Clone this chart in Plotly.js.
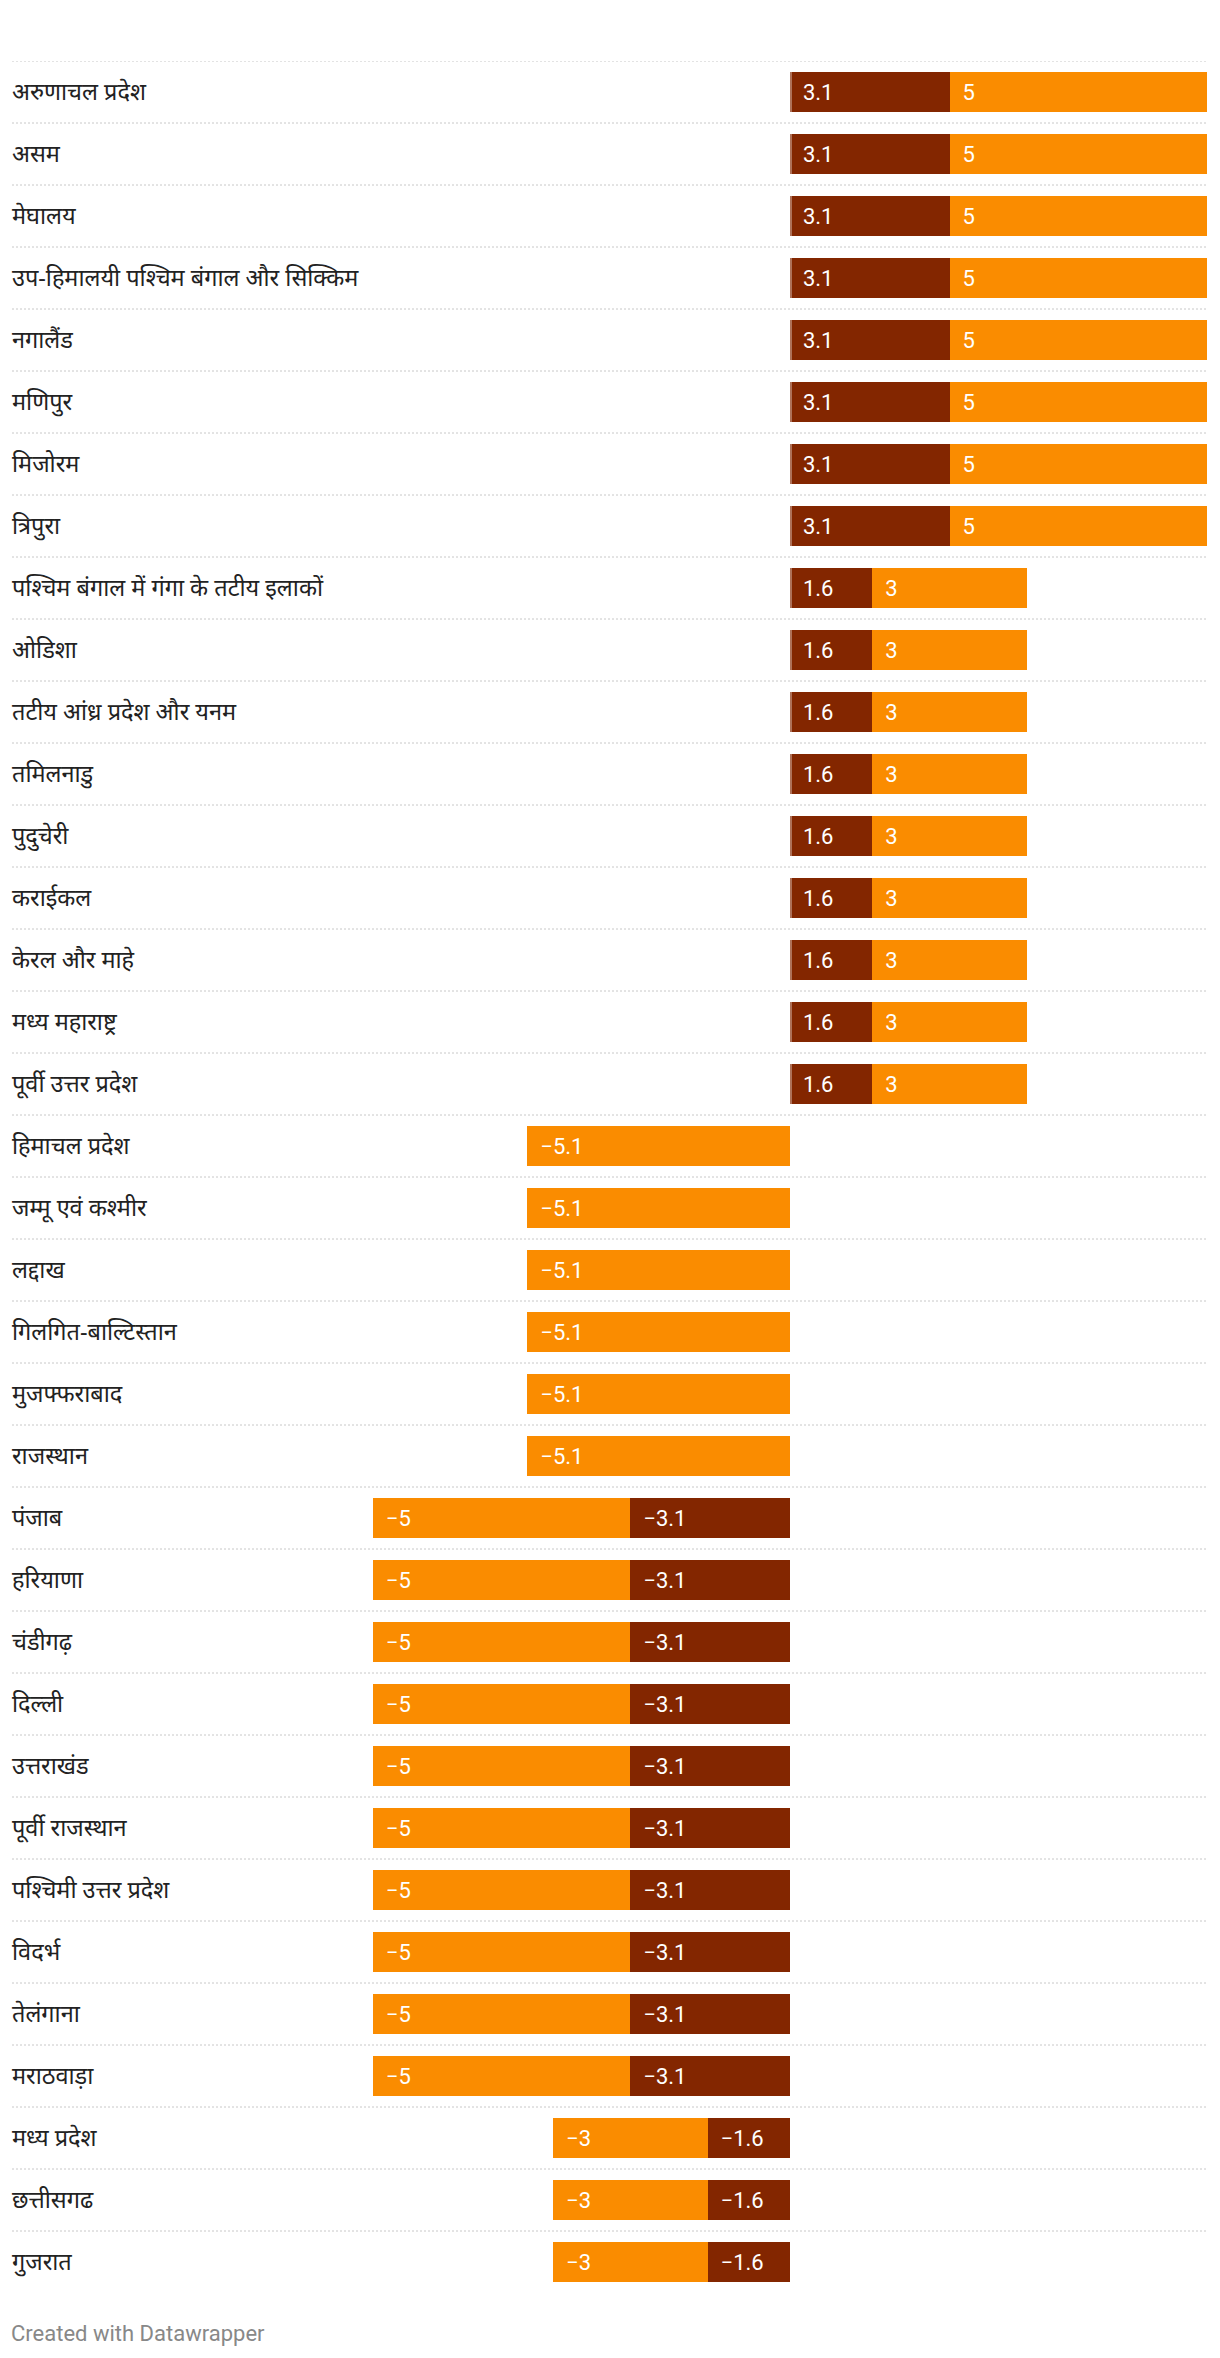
<!DOCTYPE html>
<html>
<head>
<meta charset="utf-8">
<script src="https://cdn.plot.ly/plotly-3.0.1.min.js"></script>
<style>
  html, body { margin: 0; padding: 0; background: #fff; }
  #chart { width: 1220px; height: 2358px; }
</style>
</head>
<body>
<div id="chart"></div>
<script>
const categories = [
  "अरुणाचल प्रदेश", "असम", "मेघालय", "उप-हिमालयी पश्चिम बंगाल और सिक्किम",
  "नगालैंड", "मणिपुर", "मिजोरम", "त्रिपुरा",
  "पश्चिम बंगाल में गंगा के तटीय इलाकों", "ओडिशा", "तटीय आंध्र प्रदेश और यनम",
  "तमिलनाडु", "पुदुचेरी", "कराईकल", "केरल और माहे", "मध्य महाराष्ट्र",
  "पूर्वी उत्तर प्रदेश", "हिमाचल प्रदेश", "जम्मू एवं कश्मीर", "लद्दाख",
  "गिलगित-बाल्टिस्तान", "मुजफ्फराबाद", "राजस्थान", "पंजाब", "हरियाणा",
  "चंडीगढ़", "दिल्ली", "उत्तराखंड", "पूर्वी राजस्थान", "पश्चिमी उत्तर प्रदेश",
  "विदर्भ", "तेलंगाना", "मराठवाड़ा", "मध्य प्रदेश", "छत्तीसगढ", "गुजरात"
];

// dark (inner) series
const seriesDark = [
  3.1, 3.1, 3.1, 3.1, 3.1, 3.1, 3.1, 3.1,
  1.6, 1.6, 1.6, 1.6, 1.6, 1.6, 1.6, 1.6, 1.6,
  null, null, null, null, null, null,
  -3.1, -3.1, -3.1, -3.1, -3.1, -3.1, -3.1, -3.1, -3.1, -3.1,
  -1.6, -1.6, -1.6
];

// orange (outer) series
const seriesOrange = [
  5, 5, 5, 5, 5, 5, 5, 5,
  3, 3, 3, 3, 3, 3, 3, 3, 3,
  -5.1, -5.1, -5.1, -5.1, -5.1, -5.1,
  -5, -5, -5, -5, -5, -5, -5, -5, -5, -5,
  -3, -3, -3
];

const footerText = "Created with Datawrapper";

const DARK = "#832600";
const ORANGE = "#fa8c00";
const FONT = "Roboto, 'Noto Sans', sans-serif";
const LABEL_FONT = "'Noto Sans', 'Noto Sans Devanagari', Roboto, sans-serif";
const BAR_W = 40 / 62;
const PX_PER_UNIT = 51.5;

function fmt(v) {
  if (v === null) return "";
  return "\u00a0\u2009" + String(v).replace("-", "\u2212");
}
function pick(arr, positive) {
  return arr.map(v => (v === null ? null : ((positive ? v > 0 : v < 0) ? v : null)));
}

function makeTrace(arr, positive, color) {
  const vals = pick(arr, positive);
  return {
    type: "bar",
    orientation: "h",
    y: categories,
    x: vals,
    text: vals.map(fmt),
    textposition: "inside",
    insidetextanchor: positive ? "start" : "end",
    textfont: { family: FONT, size: 22, color: "#ffffff" },
    marker: { color: color, line: { width: 0 } },
    width: BAR_W,
    hoverinfo: "skip",
    showlegend: false,
    cliponaxis: false
  };
}

const traces = [
  makeTrace(seriesDark, true, DARK),
  makeTrace(seriesDark, false, DARK),
  makeTrace(seriesOrange, true, ORANGE),
  makeTrace(seriesOrange, false, ORANGE)
];

const plotW = 1220 - 9 - 12;
const shapes = categories.map((c, i) => ({
  type: "line",
  xref: "paper", yref: "y",
  x0: 3 / plotW, x1: 1,
  y0: i - 0.5, y1: i - 0.5,
  line: { color: "#c8c8c8", width: 1, dash: "2px,2px" },
  layer: "below"
}));

// light edge at the zero side of positive bars
seriesDark.forEach((v, i) => {
  if (v !== null && v > 0) {
    shapes.push({
      type: "rect",
      xref: "x", yref: "y",
      x0: 0, x1: 2 / PX_PER_UNIT,
      y0: i - BAR_W / 2, y1: i + BAR_W / 2,
      fillcolor: "rgba(255,255,255,0.35)",
      line: { width: 0 },
      layer: "above"
    });
  }
});

const layout = {
  width: 1220,
  height: 2358,
  margin: { l: 9, r: 12, t: 61, b: 65 },
  paper_bgcolor: "#ffffff",
  plot_bgcolor: "#ffffff",
  barmode: "relative",
  bargap: 0,
  font: { family: FONT, size: 20, color: "#1d1d1d" },
  xaxis: {
    range: [-781 / PX_PER_UNIT, 418 / PX_PER_UNIT],
    showgrid: false,
    zeroline: false,
    showticklabels: false,
    showline: false,
    ticks: "",
    fixedrange: true
  },
  yaxis: {
    type: "category",
    range: [35.5, -0.5],
    showgrid: false,
    zeroline: false,
    showline: false,
    ticks: "",
    ticklabelposition: "inside",
    tickfont: { family: LABEL_FONT, size: 23.5, color: "#222222" },
    fixedrange: true
  },
  shapes: shapes,
  annotations: [{
    text: footerText,
    xref: "paper", yref: "paper",
    x: 0, y: 0,
    xanchor: "left", yanchor: "middle",
    xshift: 0, yshift: -40,
    showarrow: false,
    font: { family: FONT, size: 22, color: "#888888" }
  }]
};

Plotly.newPlot("chart", traces, layout, { displayModeBar: false, staticPlot: true });
</script>
</body>
</html>
